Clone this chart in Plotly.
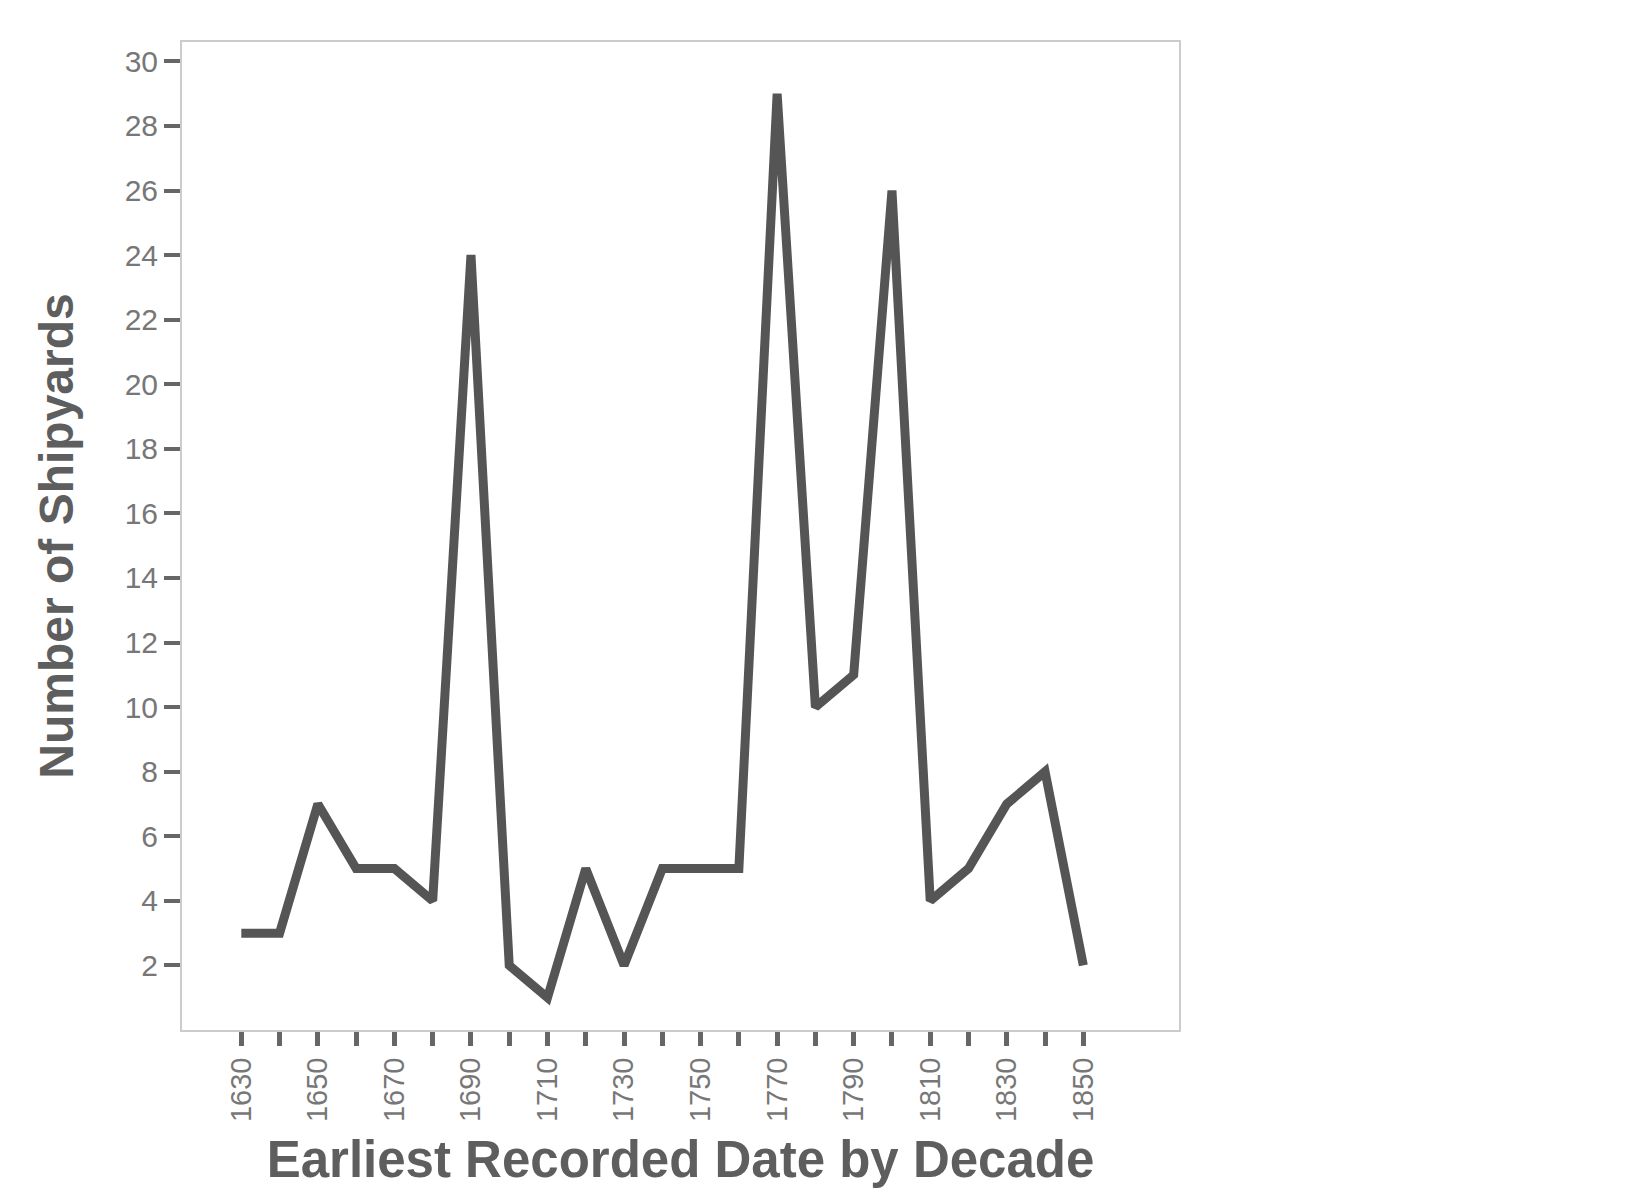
import plotly.graph_objs as go

decades = [1630, 1640, 1650, 1660, 1670, 1680, 1690, 1700, 1710, 1720, 1730, 1740,
           1750, 1760, 1770, 1780, 1790, 1800, 1810, 1820, 1830, 1840, 1850]
shipyards = [3, 3, 7, 5, 5, 4, 24, 2, 1, 5, 2, 5, 5, 5, 29, 10, 11, 26, 4, 5, 7, 8, 2]

tick_vals = decades
tick_text = [str(d) if (d - 1630) % 20 == 0 else "" for d in decades]
y_ticks = list(range(2, 31, 2))

fig = go.Figure()
fig.add_trace(go.Scatter(x=decades, y=shipyards, mode='lines',
                         line=dict(color='#555555', width=9), showlegend=False))

fig.update_layout(
    width=1632, height=1203,
    plot_bgcolor='white', paper_bgcolor='white',
    margin=dict(l=174, r=461, t=34, b=181),
    font=dict(family='Liberation Sans, Arial', color='#777777'),
    xaxis=dict(
        range=[1614.5, 1875], tickvals=tick_vals, ticktext=tick_text,
        tickangle=-90, ticks='outside', ticklen=14, tickwidth=5, tickcolor='#666666',
        tickfont=dict(size=29, color='#777777'),
        showgrid=False, zeroline=False, showline=True, linecolor='#cccccc',
        linewidth=2, mirror=True,
        title=dict(text='<b>Earliest Recorded Date by Decade</b>',
                   font=dict(size=51, color='#5e5e5e'), standoff=20),
    ),
    yaxis=dict(
        range=[0, 30.6], tickvals=y_ticks, ticks='outside', ticklen=16, tickwidth=4,
        tickcolor='#666666', tickfont=dict(size=30, color='#777777'),
        showgrid=False, zeroline=False, showline=True, linecolor='#cccccc',
        linewidth=2, mirror=True,
        title=dict(text='<b>Number of Shipyards</b>',
                   font=dict(size=48, color='#5e5e5e'), standoff=36),
    ),
)

fig.write_html("out.html")
